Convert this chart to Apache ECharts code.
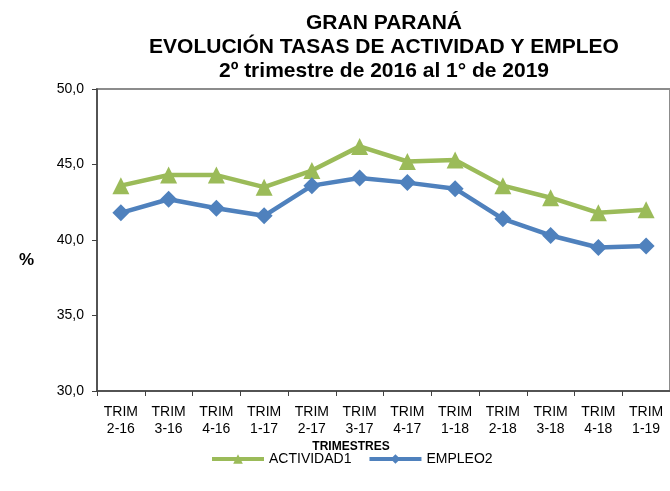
<!DOCTYPE html>
<html>
<head>
<meta charset="utf-8">
<script src="https://cdn.jsdelivr.net/npm/echarts@6/dist/echarts.min.js"></script>
<style>
  html, body { margin: 0; padding: 0; background: #fff; }
  #chart { width: 670px; height: 491px; }
</style>
</head>
<body>
<div id="chart"></div>
<script type="text/javascript">
    // datos
    var trimestres = ['TRIM\n2-16', 'TRIM\n3-16', 'TRIM\n4-16', 'TRIM\n1-17', 'TRIM\n2-17', 'TRIM\n3-17',
        'TRIM\n4-17', 'TRIM\n1-18', 'TRIM\n2-18', 'TRIM\n3-18', 'TRIM\n4-18', 'TRIM\n1-19'];
    var actividad = [43.6, 44.3, 44.3, 43.5, 44.6, 46.2, 45.2, 45.3, 43.6, 42.8, 41.8, 42.0];
    var empleo = [41.8, 42.7, 42.1, 41.6, 43.6, 44.1, 43.8, 43.4, 41.4, 40.3, 39.5, 39.6];

    var myChart = echarts.init(document.getElementById('chart'));
    var font = 'Liberation Sans, Arial, sans-serif';

    myChart.setOption({
        animation: false,
        textStyle: { fontFamily: font },
        title: [{
            text: 'GRAN PARANÁ\nEVOLUCIÓN TASAS DE ACTIVIDAD Y EMPLEO\n2º trimestre de 2016 al 1° de 2019',
            left: 379,
            top: 6,
            textAlign: 'center',
            textStyle: { fontSize: 21, fontWeight: 'bold', color: '#000', lineHeight: 24, fontFamily: font }
        }, {
            text: '%',
            left: 14,
            top: 247,
            textStyle: { fontSize: 17, fontWeight: 'bold', color: '#000', fontFamily: font }
        }, {
            text: 'TRIMESTRES',
            left: 346,
            top: 436,
            textAlign: 'center',
            textStyle: { fontSize: 12, fontWeight: 'bold', color: '#000', fontFamily: font }
        }],
        legend: {
            data: ['ACTIVIDAD1', 'EMPLEO2'],
            left: 205,
            top: 447,
            itemWidth: 52,
            itemHeight: 12,
            itemGap: 16,
            lineStyle: { width: 4 },
            textStyle: { fontSize: 14, color: '#000', fontFamily: font }
        },
        grid: {
            left: 97,
            top: 89,
            width: 574,
            height: 302,
            show: true,
            borderColor: '#8c8c8c',
            borderWidth: 2
        },
        xAxis: {
            type: 'category',
            data: trimestres,
            boundaryGap: true,
            axisLine: { lineStyle: { color: '#404040', width: 1.5 } },
            axisTick: { show: true, length: 5, lineStyle: { color: '#404040' } },
            axisLabel: { interval: 0, fontSize: 14, color: '#000', lineHeight: 17, margin: 13, fontFamily: font }
        },
        yAxis: {
            type: 'value',
            min: 30,
            max: 50,
            interval: 5,
            axisLine: { show: true, lineStyle: { color: '#404040', width: 1.5 } },
            axisTick: { show: true, inside: false, length: 5, lineStyle: { color: '#404040' } },
            splitLine: { show: false },
            axisLabel: {
                fontSize: 14, color: '#000', margin: 13, fontFamily: font,
                formatter: function (v) { return v.toFixed(1).replace('.', ','); }
            }
        },
        series: [{
            name: 'ACTIVIDAD1',
            type: 'line',
            data: actividad,
            symbol: 'triangle',
            symbolSize: 17,
            itemStyle: { color: '#9bbb59' },
            lineStyle: { color: '#9bbb59', width: 4.5 }
        }, {
            name: 'EMPLEO2',
            type: 'line',
            data: empleo,
            symbol: 'diamond',
            symbolSize: 17,
            itemStyle: { color: '#4f81bd' },
            lineStyle: { color: '#4f81bd', width: 4.5 }
        }]
    });
</script>
</body>
</html>
